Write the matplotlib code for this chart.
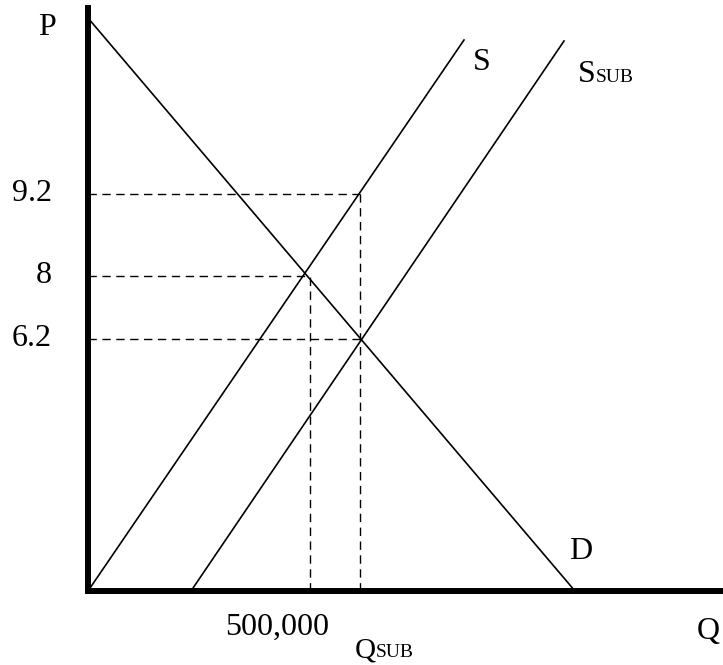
import matplotlib.pyplot as plt

# schematic coordinates, origin at the corner of the axes
demand_q = [0, 487]
demand_p = [573, 0]
supply_q = [0, 376]
supply_p = [0, 551]
supply_sub_q = [103, 476]
supply_sub_p = [0, 550]

price_levels = [397, 315, 252]
price_labels = ["9.2", "8", "6.2"]
price_ends = [272, 222, 272]   # where each dashed price line stops
qty_levels = [222, 272]
qty_tops = [315, 397]          # where each dashed quantity line stops

plt.rcParams['font.family'] = ['Liberation Serif', 'DejaVu Serif']

fig = plt.figure(figsize=(7.23, 6.65), dpi=100)
ax = fig.add_axes([88 / 723, (665 - 591) / 665, (723 - 88) / 723, (591 - 8) / 665])
ax.set_xlim(0, 635)
ax.set_ylim(0, 583)

# curves
ax.plot(demand_q, demand_p, color='black', lw=1.2)
ax.plot(supply_q, supply_p, color='black', lw=1.2)
ax.plot(supply_sub_q, supply_sub_p, color='black', lw=1.2)

# dashed guides
for p, end in zip(price_levels, price_ends):
    ax.plot([0, end], [p, p], color='black', lw=1, dashes=(6, 4))
for q, top in zip(qty_levels, qty_tops):
    ax.plot([q, q], [0, top], color='black', lw=1, dashes=(6, 4))

# axes style
for side in ['top', 'right']:
    ax.spines[side].set_visible(False)
for side in ['left', 'bottom']:
    ax.spines[side].set_linewidth(4.3)
    ax.spines[side].set_capstyle('projecting')
ax.set_xticks([])
ax.set_yticks([])

fs = 23
small = 14

# price labels
for p, lab in zip(price_levels, price_labels):
    ax.text(-36, p, lab, ha='right', va='center', fontsize=fs, clip_on=False)

ax.text(-50, 556, "P", ha='left', va='baseline', fontsize=fs, clip_on=False)
ax.text(609, -48, "Q", ha='left', va='baseline', fontsize=fs, clip_on=False)
ax.text(189, -44, "500,000", ha='center', va='baseline', fontsize=fs, clip_on=False)
ax.text(481, 32, "D", ha='left', va='baseline', fontsize=fs)
ax.text(385, 521, "S", ha='left', va='baseline', fontsize=fs)

s_sub = ax.text(490, 509, "S", ha='left', va='baseline', fontsize=fs)
ax.annotate("SUB", xy=(1, 509), xycoords=(s_sub, 'data'),
            ha='left', va='baseline', fontsize=small)

q_sub = ax.text(267, -66, "Q", ha='left', va='baseline', fontsize=21, clip_on=False)
ax.annotate("SUB", xy=(1, -66), xycoords=(q_sub, 'data'),
            ha='left', va='baseline', fontsize=small, annotation_clip=False)

fig.savefig("out.png", dpi=100)
